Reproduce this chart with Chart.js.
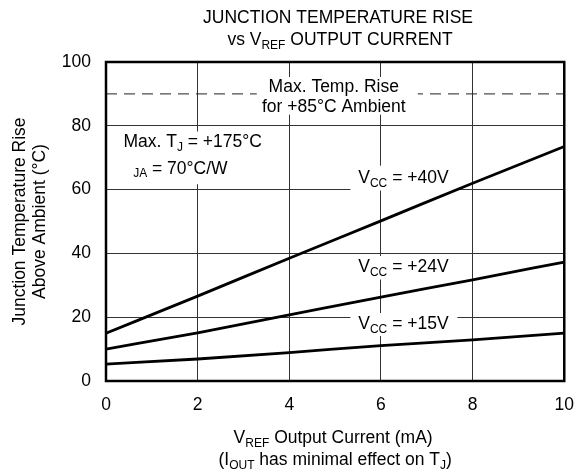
<!DOCTYPE html>
<html>
<head>
<meta charset="utf-8">
<script src="https://cdn.jsdelivr.net/npm/chart.js@4"></script>
<style>
  html, body { margin: 0; padding: 0; background: #fff; }
  #wrap { width: 588px; height: 472px; }
</style>
</head>
<body>
<div id="wrap"><canvas id="chart"></canvas></div>
<script>
// values
var currents = [0, 2, 4, 6, 8, 10];
var rise40 = [15, 26.6, 38.5, 50.2, 62, 73.5];
var rise24 = [10, 15.1, 20.7, 26.3, 31.7, 37.3];
var rise15 = [5.3, 6.9, 8.9, 11.1, 12.9, 15];
var maxRise = [90, 90];
var maxRiseX = [0, 10];
var yTicks = [0, 20, 40, 60, 80, 100];
var xTicks = [0, 2, 4, 6, 8, 10];

var FONT = '"Liberation Sans", Arial, sans-serif';
var FS = 17.5;

function pts(xs, ys) {
    var out = [];
    for (let i = 0; i < xs.length; i++) out.push({ x: xs[i], y: ys[i] });
    return out;
}

// draw text made of [text, isSub] pieces
function rich(ctx, parts, x, y, size, align) {
    var subSize = Math.round(size * 0.7);
    var w = 0;
    parts.forEach(function (p) {
        ctx.font = (p[1] ? subSize : size) + 'px ' + FONT;
        w += ctx.measureText(p[0]).width;
    });
    var cx = x;
    if (align === 'center') cx = x - w / 2;
    if (align === 'right') cx = x - w;
    ctx.textAlign = 'left';
    ctx.textBaseline = 'middle';
    parts.forEach(function (p) {
        ctx.font = (p[1] ? subSize : size) + 'px ' + FONT;
        ctx.fillText(p[0], cx, p[1] ? y + size * 0.3 : y);
        cx += ctx.measureText(p[0]).width;
    });
}

function whiteBox(ctx, x0, y0, x1, y1) {
    ctx.fillStyle = '#fff';
    ctx.fillRect(x0, y0, x1 - x0, y1 - y0);
    ctx.fillStyle = '#000';
}

var labelsPlugin = {
    id: 'labels',
    afterDatasetDraw: function (chart, args) {
        // dashed line (last dataset) is drawn first, then the labels cover it and the grid
        if (args.index !== 3) return;
        var ctx = chart.ctx;
        var xs = chart.scales.x, ys = chart.scales.y;
        ctx.save();
        ctx.fillStyle = '#000';

        var cx = xs.getPixelForValue(4.97);
        whiteBox(ctx, cx - 77, ys.getPixelForValue(95.3), cx + 84, ys.getPixelForValue(83.5));
        rich(ctx, [['Max. Temp. Rise', false]], cx, ys.getPixelForValue(92.0), FS, 'center');
        rich(ctx, [['for +85°C Ambient', false]], cx, ys.getPixelForValue(85.8), FS, 'center');

        var lx = xs.getPixelForValue(0.38);
        whiteBox(ctx, lx - 8, ys.getPixelForValue(78.2), lx + 150, ys.getPixelForValue(61.7));
        rich(ctx, [['Max. T', false], ['J', true], [' = +175°C', false]], lx, ys.getPixelForValue(74.8), FS, 'left');
        rich(ctx, [['  ', false], ['JA', true], [' = 70°C/W', false]], lx, ys.getPixelForValue(66.5), FS, 'left');

        var vx = xs.getPixelForValue(6.49);
        var vcc = [['+40V', 63.5, 67.5, 59.7], ['+24V', 35.7, 39.2, 31.8], ['+15V', 17.7, 21.3, 14.1]];
        vcc.forEach(function (v) {
            whiteBox(ctx, vx - 53, ys.getPixelForValue(v[2]), vx + 54, ys.getPixelForValue(v[3]));
            rich(ctx, [['V', false], ['CC', true], [' = ' + v[0], false]], vx, ys.getPixelForValue(v[1]), FS, 'center');
        });
        ctx.restore();
    },
    afterDraw: function (chart) {
        var ctx = chart.ctx;
        var a = chart.chartArea;
        ctx.save();
        ctx.strokeStyle = '#000';
        ctx.lineWidth = 2.5;
        ctx.strokeRect(a.left, a.top, a.right - a.left, a.bottom - a.top);

        ctx.fillStyle = '#000';
        rich(ctx, [['JUNCTION TEMPERATURE RISE', false]], 338, 18.5, FS, 'center');
        rich(ctx, [['vs V', false], ['REF', true], [' OUTPUT CURRENT', false]], 340, 40, FS, 'center');

        var mx = (a.left + a.right) / 2;
        rich(ctx, [['V', false], ['REF', true], [' Output Current (mA)', false]], mx - 2, 438, FS, 'center');
        rich(ctx, [['(I', false], ['OUT', true], [' has minimal effect on T', false], ['J', true], [')', false]], mx, 460, FS, 'center');

        ctx.translate(0, (a.top + a.bottom) / 2);
        ctx.rotate(-Math.PI / 2);
        rich(ctx, [['Junction Temperature Rise', false]], 0, 20, FS, 'center');
        rich(ctx, [['Above Ambient (°C)', false]], 0, 40, FS, 'center');
        ctx.restore();
    }
};

function lineSet(data) {
    return {
        data: pts(currents, data),
        borderColor: '#000',
        borderWidth: 2.8,
        pointRadius: 0,
        fill: false,
        cubicInterpolationMode: 'monotone'
    };
}

var dashed = {
    data: pts(maxRiseX, maxRise),
    borderColor: '#222',
    borderWidth: 1,
    borderDash: [11, 7],
    pointRadius: 0,
    fill: false
};

new Chart(document.getElementById('chart').getContext('2d'), {
    type: 'line',
    data: {
        datasets: [lineSet(rise40), lineSet(rise24), lineSet(rise15), dashed]
    },
    options: {
        responsive: true,
        maintainAspectRatio: false,
        animation: false,
        layout: { padding: { top: 62, right: 12, left: 0, bottom: 0 } },
        plugins: { legend: { display: false }, tooltip: { enabled: false } },
        scales: {
            x: {
                type: 'linear',
                min: 0,
                max: 10,
                afterBuildTicks: function (s) { s.ticks = xTicks.map(function (v) { return { value: v }; }); },
                afterFit: function (s) { s.height = 91; },
                grid: { color: '#333', lineWidth: 1, drawTicks: false },
                border: { display: false },
                ticks: { color: '#000', padding: 14, font: { family: FONT, size: FS }, maxRotation: 0 }
            },
            y: {
                min: 0,
                max: 100,
                afterBuildTicks: function (s) { s.ticks = yTicks.map(function (v) { return { value: v }; }); },
                afterFit: function (s) { s.width = 106; },
                grid: { color: '#333', lineWidth: 1, drawTicks: false },
                border: { display: false },
                ticks: { color: '#000', padding: 15, font: { family: FONT, size: FS } }
            }
        }
    },
    plugins: [labelsPlugin]
});
</script>
</body>
</html>
